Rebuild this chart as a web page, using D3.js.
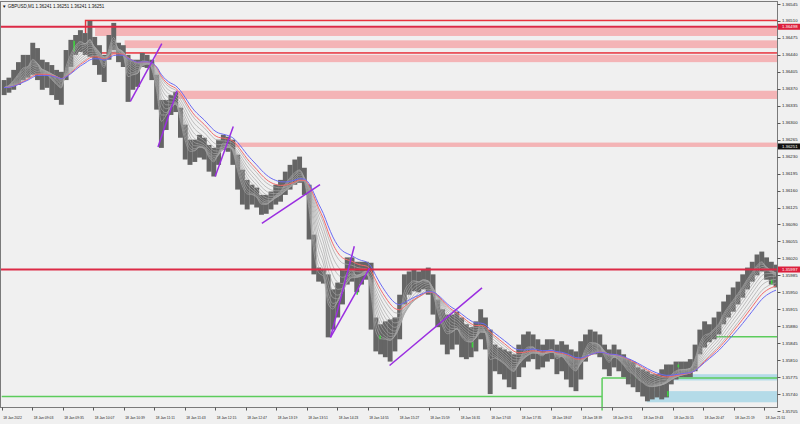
<!DOCTYPE html>
<html><head><meta charset="utf-8">
<script src="https://cdn.jsdelivr.net/npm/d3@7"></script>
<style>body{margin:0;background:#f0f0f0;} svg{display:block;}</style>
</head><body><svg id="c" width="800" height="424"></svg>
<script>
// ---------------- DATA ----------------
const symbolTitle = "GBPUSD,M1  1.36241 1.36251 1.36241 1.36251";
const dayStr = "2022-01-18";
const startClock = "08:31";
const barMinutes = 5; // each entry aggregates 5 one-minute candles
const highs = [1.36388,1.36393,1.36409,1.36425,1.36440,1.36440,1.36465,1.36454,1.36430,1.36425,
1.36419,1.36409,1.36405,1.36450,1.36471,1.36481,1.36491,1.36485,1.36510,1.36477,
1.36460,1.36440,1.36481,1.36506,1.36465,1.36460,1.36440,1.36430,1.36430,1.36444,
1.36440,1.36430,1.36399,1.36347,1.36347,1.36357,1.36364,1.36331,1.36296,1.36265,
1.36265,1.36275,1.36269,1.36254,1.36248,1.36265,1.36275,1.36271,1.36265,1.36234,
1.36203,1.36182,1.36172,1.36166,1.36151,1.36151,1.36158,1.36172,1.36182,1.36199,
1.36213,1.36224,1.36230,1.36207,1.36172,1.36069,1.36001,1.35997,1.35987,1.35956,
1.35970,1.35997,1.36022,1.36022,1.36013,1.36013,1.36013,1.36011,1.35898,1.35884,
1.35890,1.35894,1.35898,1.35945,1.35987,1.35993,1.35997,1.35993,1.35997,1.36001,
1.35987,1.35935,1.35915,1.35904,1.35904,1.35910,1.35898,1.35884,1.35878,1.35890,
1.35915,1.35898,1.35873,1.35842,1.35836,1.35832,1.35828,1.35822,1.35842,1.35863,
1.35869,1.35863,1.35853,1.35842,1.35853,1.35853,1.35842,1.35849,1.35842,1.35832,
1.35828,1.35849,1.35863,1.35873,1.35869,1.35863,1.35842,1.35832,1.35842,1.35832,
1.35822,1.35812,1.35807,1.35795,1.35791,1.35787,1.35781,1.35781,1.35791,1.35801,
1.35801,1.35807,1.35807,1.35807,1.35812,1.35842,1.35873,1.35890,1.35884,1.35898,
1.35910,1.35931,1.35945,1.35960,1.35972,1.35987,1.36001,1.36013,1.36028,1.36034,
1.36022,1.36013,1.36007];
const lows = [1.36357,1.36362,1.36368,1.36378,1.36388,1.36393,1.36399,1.36388,1.36368,1.36372,
1.36357,1.36347,1.36337,1.36388,1.36415,1.36440,1.36446,1.36440,1.36436,1.36419,
1.36399,1.36384,1.36430,1.36450,1.36425,1.36415,1.36343,1.36368,1.36374,1.36415,
1.36413,1.36388,1.36327,1.36248,1.36285,1.36316,1.36322,1.36269,1.36224,1.36213,
1.36219,1.36228,1.36224,1.36199,1.36189,1.36213,1.36244,1.36240,1.36213,1.36162,
1.36131,1.36121,1.36131,1.36125,1.36110,1.36112,1.36121,1.36131,1.36137,1.36151,
1.36162,1.36172,1.36176,1.36151,1.36059,1.35987,1.35972,1.35968,1.35857,1.35873,
1.35898,1.35925,1.35966,1.35972,1.35950,1.35966,1.35976,1.35873,1.35828,1.35822,
1.35816,1.35807,1.35828,1.35853,1.35925,1.35945,1.35952,1.35950,1.35956,1.35945,
1.35904,1.35878,1.35842,1.35822,1.35832,1.35842,1.35816,1.35812,1.35816,1.35828,
1.35853,1.35832,1.35740,1.35787,1.35781,1.35770,1.35754,1.35750,1.35775,1.35795,
1.35807,1.35812,1.35791,1.35795,1.35807,1.35812,1.35781,1.35787,1.35770,1.35754,
1.35746,1.35770,1.35807,1.35822,1.35822,1.35816,1.35791,1.35777,1.35795,1.35787,
1.35775,1.35760,1.35754,1.35744,1.35735,1.35725,1.35729,1.35733,1.35729,1.35733,
1.35760,1.35770,1.35775,1.35775,1.35775,1.35787,1.35822,1.35836,1.35847,1.35853,
1.35863,1.35884,1.35898,1.35910,1.35925,1.35939,1.35956,1.35972,1.35985,1.35993,
1.35976,1.35966,1.35960];
// bullish (green) candles: [clock, high, low]
const greenCandles = [["09:47",1.36469,1.36447],["14:44",1.35952,1.35945],["15:08",1.35861,1.35853],
["16:45",1.35847,1.35836],["20:10",1.35746,1.35735],["20:21",1.35801,1.35795],["21:59",1.35976,1.35966]];
// moving-average ribbon periods (one-minute bars)
const greyPeriods = [4,7,10,14,18,23,29,36,44,53];
const redPeriod = 60;
const bluePeriod = 70;
// objects
const horizontalLines = [1.36498, 1.35997];
const frameRect = {from:"09:59", top:1.36511, bottom:1.36444};
const pinkZones = [["10:09",1.36496,1.36479],["10:40",1.36470,1.36454],["11:12",1.36440,1.36425],["11:36",1.36366,1.36349],["12:25",1.36259,1.36250]];
const blueZones = [["20:02",1.35781,1.35768],["19:48",1.35746,1.35723]];
const greenLevels = [["08:31","19:01",1.35735],["19:01",null,1.35773],["20:59",null,1.35858]];
const greenStepClock = "19:01";
const trendLines = [["10:46",1.36344,"11:19",1.36463],["11:15",1.36250,"11:35",1.36366],["12:15",1.36189,"12:34",1.36292],
["13:04",1.36092,"14:05",1.36172],["14:16",1.35857,"14:41",1.36045],["14:16",1.35857,"14:57",1.36000],["15:18",1.35799,"16:55",1.35959]];
const yTicks = [1.36545,1.36510,1.36475,1.36440,1.36405,1.36370,1.36335,1.36300,1.36265,1.36230,1.36195,1.36160,1.36125,
1.36090,1.36055,1.36020,1.35985,1.35950,1.35915,1.35880,1.35845,1.35810,1.35775,1.35740,1.35705];
const xTickClocks = ["08:31","09:03","09:35","10:07","10:39","11:11","11:43","12:15","12:47","13:19","13:51","14:23","14:55",
"15:27","15:59","16:31","17:03","17:35","18:07","18:39","19:11","19:43","20:15","20:47","21:19","21:51"];
const xTickLabels = ["18 Jan 2022","18 Jan 09:03","18 Jan 09:35","18 Jan 10:07","18 Jan 10:39","18 Jan 11:11","18 Jan 11:43","18 Jan 12:15",
"18 Jan 12:47","18 Jan 13:19","18 Jan 13:51","18 Jan 14:23","18 Jan 14:55","18 Jan 15:27","18 Jan 15:59","18 Jan 16:31","18 Jan 17:03",
"18 Jan 17:35","18 Jan 18:07","18 Jan 18:39","18 Jan 19:11","18 Jan 19:43","18 Jan 20:15","18 Jan 20:47","18 Jan 21:19","18 Jan 21:51"];
const priceTags = [[1.36498,"#dc1f3c","#fff"],[1.36251,"#111","#fff"],[1.35997,"#dc1f3c","#fff"]];

// ---------------- CHART ----------------
const svg = d3.select("#c");
const W = 800, H = 424;
const plotL = 0.5, plotR = 777.5, plotT = 1.5, plotB = 407.5;
const parseT = c => new Date(dayStr + "T" + c + ":00");
const t0 = parseT(startClock);
const addMin = (d, m) => new Date(d.getTime() + m * 60000);
const totalMin = highs.length * barMinutes;
const x = d3.scaleTime().domain([t0, addMin(t0, totalMin)]).range([1.7, 1.7 + totalMin * 0.953]);
const y = d3.scaleLinear().domain([1.35705, 1.36545]).range([411, 4]);
const binW = x(addMin(t0, barMinutes)) - x(t0);

svg.append("rect").attr("width", W).attr("height", H).attr("fill", "#f0f0f0");
const defs = svg.append("defs");
defs.append("clipPath").attr("id", "clip").append("rect")
  .attr("x", plotL).attr("y", plotT).attr("width", plotR - plotL).attr("height", plotB - plotT);
const g = svg.append("g").attr("clip-path", "url(#clip)");

// pink zones
g.selectAll(".pz").data(pinkZones).join("rect")
  .attr("x", d => x(parseT(d[0]))).attr("width", d => plotR - x(parseT(d[0])))
  .attr("y", d => y(d[1])).attr("height", d => y(d[2]) - y(d[1]))
  .attr("fill", "#f4b4b6");
// blue zones
g.selectAll(".bz").data(blueZones).join("rect")
  .attr("x", d => x(parseT(d[0]))).attr("width", d => plotR - x(parseT(d[0])))
  .attr("y", d => y(d[1])).attr("height", d => y(d[2]) - y(d[1]))
  .attr("fill", "#b4dbe8");
// frame rectangle
g.append("rect").attr("x", x(parseT(frameRect.from))).attr("y", y(frameRect.top))
  .attr("width", plotR + 5 - x(parseT(frameRect.from))).attr("height", y(frameRect.bottom) - y(frameRect.top))
  .attr("fill", "none").attr("stroke", "#e8323c").attr("stroke-width", 1.5);
// green levels
greenLevels.forEach(d => {
  const xa = x(parseT(d[0])), xb = d[1] ? x(parseT(d[1])) : plotR;
  g.append("line").attr("x1", xa).attr("x2", xb).attr("y1", y(d[2])).attr("y2", y(d[2]))
    .attr("stroke", "#5ccc5c").attr("stroke-width", 1.5);
});
svg.append("line").attr("x1", x(parseT(greenStepClock))).attr("x2", x(parseT(greenStepClock)))
  .attr("y1", y(greenLevels[1][2])).attr("y2", plotB + 3).attr("stroke", "#5ccc5c").attr("stroke-width", 1.5);

// candles (aggregated)
const bars = highs.map((h, i) => ({ t: addMin(t0, i * barMinutes + barMinutes / 2), h, l: lows[i] }));
g.selectAll(".bar").data(bars).join("rect")
  .attr("x", d => x(d.t) - binW / 2).attr("width", binW + 0.15)
  .attr("y", d => y(d.h)).attr("height", d => Math.max(1, y(d.l) - y(d.h)))
  .attr("fill", "#656565");
g.selectAll(".gc").data(greenCandles).join("rect")
  .attr("x", d => x(parseT(d[0])) - 0.8).attr("width", 1.6)
  .attr("y", d => y(d[1])).attr("height", d => Math.max(1.5, y(d[2]) - y(d[1])))
  .attr("fill", "#3ed23e");

// moving average ribbon
const mids = bars.map(b => (b.h + b.l) / 2);
function ema(period) {
  const a1 = 2 / (period + 1);
  const a = 1 - Math.pow(1 - a1, barMinutes);
  let v = mids[0];
  return mids.map(m => (v = v + a * (m - v)));
}
const line = d3.line().x((d, i) => x(bars[i].t)).y(d => y(d)).curve(d3.curveMonotoneX);
greyPeriods.forEach(p => {
  g.append("path").attr("d", line(ema(p))).attr("fill", "none").attr("stroke", "#a6a6a6").attr("stroke-width", 0.7);
});
g.append("path").attr("d", line(ema(redPeriod))).attr("fill", "none").attr("stroke", "#f26a6a").attr("stroke-width", 1);
g.append("path").attr("d", line(ema(bluePeriod))).attr("fill", "none").attr("stroke", "#6a6af2").attr("stroke-width", 1);

// horizontal lines
g.selectAll(".hl").data(horizontalLines).join("line")
  .attr("x1", plotL).attr("x2", plotR).attr("y1", d => y(d)).attr("y2", d => y(d))
  .attr("stroke", "#dc2a46").attr("stroke-width", 2);
// trend lines
g.selectAll(".tl").data(trendLines).join("line")
  .attr("x1", d => x(parseT(d[0]))).attr("y1", d => y(d[1]))
  .attr("x2", d => x(parseT(d[2]))).attr("y2", d => y(d[3]))
  .attr("stroke", "#9a2ee0").attr("stroke-width", 1.5);

// frame
svg.append("rect").attr("x", plotL).attr("y", plotT).attr("width", plotR - plotL).attr("height", plotB - plotT)
  .attr("fill", "none").attr("stroke", "#7a7a7a").attr("stroke-width", 1);

// y axis
const yg = svg.append("g");
yg.selectAll("line").data(yTicks).join("line")
  .attr("x1", plotR).attr("x2", plotR + 3).attr("y1", d => Math.round(y(d)) + 0.5).attr("y2", d => Math.round(y(d)) + 0.5)
  .attr("stroke", "#555").attr("stroke-width", 1);
yg.selectAll("text").data(yTicks).join("text")
  .attr("x", 782).attr("y", d => y(d)).attr("dy", "0.35em")
  .attr("font-family", "Liberation Sans, Arial, sans-serif").attr("font-size", 4.3).attr("fill", "#222")
  .text(d => d3.format(".5f")(d));
priceTags.forEach(([p, bg, fg]) => {
  svg.append("rect").attr("x", 778).attr("y", y(p) - 3).attr("width", 22).attr("height", 6).attr("fill", bg);
  svg.append("text").attr("x", 782).attr("y", y(p)).attr("dy", "0.35em")
    .attr("font-family", "Liberation Sans, Arial, sans-serif").attr("font-size", 4.3).attr("fill", fg)
    .text(d3.format(".5f")(p));
});

// x axis
const xg = svg.append("g");
xg.selectAll("line").data(xTickClocks).join("line")
  .attr("x1", d => Math.round(x(parseT(d))) + 0.5).attr("x2", d => Math.round(x(parseT(d))) + 0.5)
  .attr("y1", plotB).attr("y2", plotB + 3).attr("stroke", "#555");
xg.selectAll("text").data(xTickClocks).join("text")
  .attr("x", d => x(parseT(d)) + 1.5).attr("y", 419)
  .attr("font-family", "Liberation Sans, Arial, sans-serif").attr("font-size", 3.4).attr("fill", "#222")
  .text((d, i) => xTickLabels[i]);

// title
svg.append("text").attr("x", 2).attr("y", 7.5).attr("font-family", "Liberation Sans, Arial, sans-serif")
  .attr("font-size", 4.5).attr("fill", "#111").text("\u25BC " + symbolTitle);
</script></body></html>
